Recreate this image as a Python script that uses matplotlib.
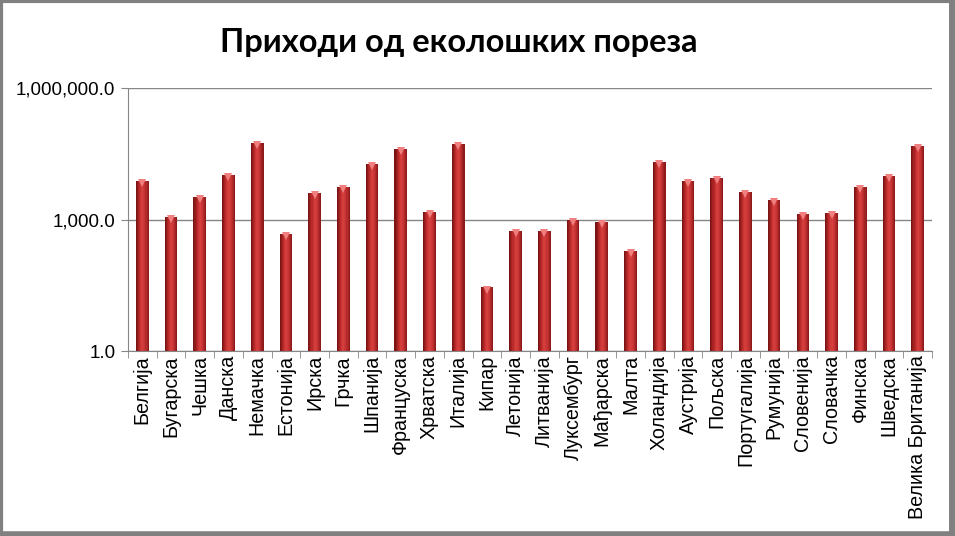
import numpy as np
import matplotlib
matplotlib.use("Agg")
import matplotlib.pyplot as plt
from matplotlib.ticker import FixedLocator, FuncFormatter
from matplotlib.lines import Line2D

# државе и приходи (логаритамска скала)
drzave = ["Белгија", "Бугарска", "Чешка", "Данска", "Немачка", "Естонија",
          "Ирска", "Грчка", "Шпанија", "Француска", "Хрватска", "Италија",
          "Кипар", "Летонија", "Литванија", "Луксембург", "Мађарска", "Малта",
          "Холандија", "Аустрија", "Пољска", "Португалија", "Румунија",
          "Словенија", "Словачка", "Финска", "Шведска", "Велика Британија"]
prihodi = [7700, 1170, 3330, 10600, 57000, 470,
           4100, 5650, 18600, 41500, 1510, 54000,
           27.5, 550, 550, 980, 890, 192,
           21200, 7800, 9100, 4300, 2820,
           1350, 1450, 5650, 10000, 48000]
y_tikovi = [1, 1000, 1000000]

plt.rcParams['font.family'] = ['Liberation Sans', 'DejaVu Sans']

fig = plt.figure(figsize=(9.55, 5.36), dpi=100)
ax = fig.add_axes([0.134, 0.345, 0.842, 0.49])

x = np.arange(len(drzave))
sirina = 0.44

# бар са преливом: тамне ивице, светлија средина
n = 12
boje = plt.cm.colors.LinearSegmentedColormap.from_list(
    "crv", ["#7a1414", "#b82828", "#d8423f", "#c43232", "#8e1a1a"])
for k in range(n):
    pomak = -sirina / 2 + (k + 0.5) * sirina / n
    ax.bar(x + pomak, prihodi, width=sirina / n * 1.05, bottom=1,
           color=boje(k / (n - 1)), linewidth=0)

# светли троугао на врху
for xi, v in zip(x, prihodi):
    ax.plot(xi, v / 1.12, marker="v", color="#f08080", markersize=6,
            markeredgewidth=0)

ax.set_yscale("log")
ax.set_ylim(1, 1000000)
ax.set_xlim(-0.5, len(drzave) - 0.5)
ax.yaxis.set_major_locator(FixedLocator(y_tikovi))
ax.yaxis.set_minor_locator(FixedLocator([]))
ax.yaxis.set_major_formatter(FuncFormatter(lambda v, p: f"{v:,.1f}"))
ax.grid(axis="y", color="#868686", linewidth=1)
ax.set_axisbelow(True)

ax.set_xticks(x)
ax.set_xticklabels(drzave, rotation=90, fontsize=14.2)
ax.tick_params(axis="x", length=0, pad=3)
ax.set_xticks(np.arange(len(drzave) + 1) - 0.5, minor=True)
ax.tick_params(axis="x", which="minor", length=5, color="#868686")
ax.tick_params(axis="y", labelsize=13.5, length=5, color="#868686", pad=4)

for s in ["top", "right"]:
    ax.spines[s].set_visible(False)
for s in ["left", "bottom"]:
    ax.spines[s].set_color("#868686")

fig.text(0.48, 0.92, "Приходи од еколошких пореза", ha="center", va="center",
         fontsize=23.5, fontweight="bold", family=["Lato", "DejaVu Sans"])

# сиви оквир (дебљи десно и доле)
siva = "#808080"
fig.add_artist(Line2D([0, 1], [0.998, 0.998], color=siva, lw=3, transform=fig.transFigure))
fig.add_artist(Line2D([0.0015, 0.0015], [0, 1], color=siva, lw=3, transform=fig.transFigure))
fig.add_artist(Line2D([0.997, 0.997], [0, 1], color=siva, lw=5, transform=fig.transFigure))
fig.add_artist(Line2D([0, 1], [0.004, 0.004], color=siva, lw=4, transform=fig.transFigure))

fig.savefig("out.png", dpi=100, facecolor="white")
